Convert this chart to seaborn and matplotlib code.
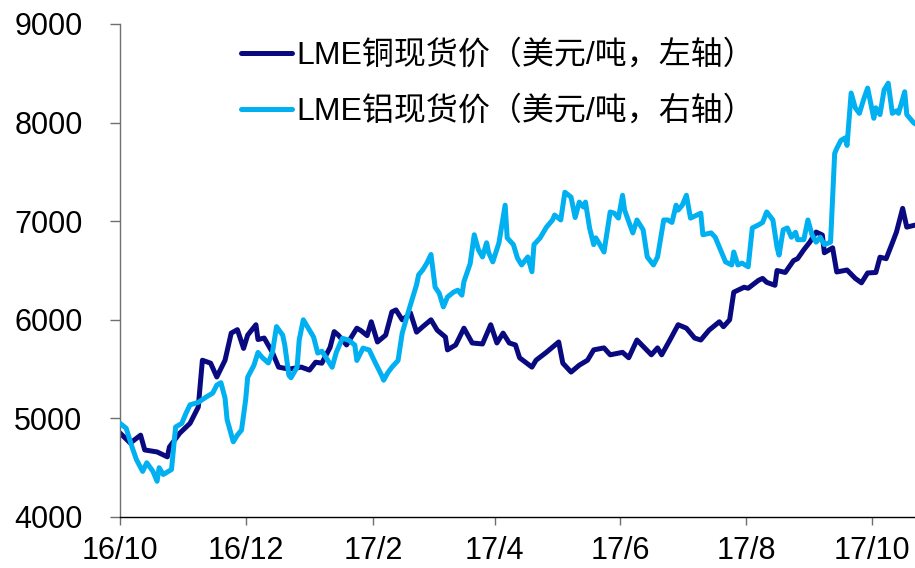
import matplotlib
matplotlib.use("Agg")
import matplotlib.pyplot as plt
import matplotlib.dates as mdates
import pandas as pd
import seaborn as sns

# ---------------- data ----------------
cu_dates = ["2016-10-01","2016-10-06","2016-10-11","2016-10-13","2016-10-19","2016-10-24","2016-10-25",
            "2016-10-30","2016-11-04","2016-11-08","2016-11-10","2016-11-14","2016-11-17","2016-11-21",
            "2016-11-24","2016-11-27","2016-11-30","2016-12-02","2016-12-06","2016-12-07","2016-12-10",
            "2016-12-14","2016-12-17","2016-12-22","2016-12-28","2017-01-01","2017-01-04","2017-01-07",
            "2017-01-11","2017-01-13","2017-01-15","2017-01-19","2017-01-24","2017-01-26","2017-01-29",
            "2017-01-31","2017-02-03","2017-02-07","2017-02-10","2017-02-12","2017-02-15","2017-02-17",
            "2017-02-19","2017-02-22","2017-02-25","2017-03-01","2017-03-04","2017-03-08","2017-03-09",
            "2017-03-13","2017-03-17","2017-03-21","2017-03-26","2017-03-30","2017-04-02","2017-04-05",
            "2017-04-08","2017-04-11","2017-04-13","2017-04-19","2017-04-21","2017-04-26","2017-05-02",
            "2017-05-04","2017-05-08","2017-05-12","2017-05-16","2017-05-19","2017-05-24","2017-05-27",
            "2017-06-02","2017-06-05","2017-06-09","2017-06-16","2017-06-19","2017-06-21","2017-06-25",
            "2017-06-29","2017-07-03","2017-07-07","2017-07-10","2017-07-14","2017-07-19","2017-07-21",
            "2017-07-24","2017-07-26","2017-07-31","2017-08-02","2017-08-07","2017-08-09","2017-08-11",
            "2017-08-15","2017-08-16","2017-08-20","2017-08-24","2017-08-26","2017-08-29","2017-09-01",
            "2017-09-04","2017-09-07","2017-09-08","2017-09-12","2017-09-14","2017-09-19","2017-09-23",
            "2017-09-26","2017-09-29","2017-10-03","2017-10-05","2017-10-08","2017-10-11","2017-10-13",
            "2017-10-16","2017-10-18","2017-10-22"]
cu_price = [4852,4750,4830,4680,4660,4610,4710,
            4850,4950,5115,5590,5560,5420,5590,
            5865,5900,5710,5845,5950,5800,5815,
            5670,5520,5500,5520,5490,5570,5560,
            5720,5880,5845,5745,5915,5890,5840,
            5980,5775,5845,6080,6100,6000,6030,
            6070,5875,5930,6000,5895,5825,5695,
            5745,5915,5765,5755,5950,5765,5865,
            5765,5745,5615,5520,5590,5670,5775,
            5560,5470,5540,5590,5695,5715,5645,
            5670,5615,5795,5645,5715,5645,5795,
            5950,5915,5815,5795,5895,5980,5930,
            6000,6280,6330,6320,6400,6420,6380,
            6350,6500,6480,6600,6620,6710,6790,
            6890,6860,6680,6730,6485,6505,6420,
            6375,6475,6480,6635,6620,6780,6890,
            7130,6940,6960]

al_dates = ["2016-10-01","2016-10-04","2016-10-07","2016-10-09","2016-10-12","2016-10-14","2016-10-17",
            "2016-10-19","2016-10-20","2016-10-22","2016-10-26","2016-10-28","2016-10-31","2016-11-02",
            "2016-11-04","2016-11-08","2016-11-12","2016-11-15","2016-11-17","2016-11-19","2016-11-21",
            "2016-11-22","2016-11-25","2016-11-27","2016-11-29","2016-12-01","2016-12-02","2016-12-05",
            "2016-12-07","2016-12-09","2016-12-12","2016-12-14","2016-12-16","2016-12-19","2016-12-20",
            "2016-12-22","2016-12-23","2016-12-26","2016-12-27","2016-12-29","2017-01-01","2017-01-03",
            "2017-01-05","2017-01-07","2017-01-09","2017-01-12","2017-01-14","2017-01-17","2017-01-20",
            "2017-01-23","2017-01-24","2017-01-27","2017-01-30","2017-02-02","2017-02-05","2017-02-06",
            "2017-02-08","2017-02-10","2017-02-13","2017-02-15","2017-02-18","2017-02-20","2017-02-22",
            "2017-02-23","2017-02-25","2017-02-27","2017-03-01","2017-03-03","2017-03-05","2017-03-07",
            "2017-03-09","2017-03-12","2017-03-14","2017-03-16","2017-03-17","2017-03-20","2017-03-22",
            "2017-03-24","2017-03-26","2017-03-28","2017-03-29","2017-03-31","2017-04-03","2017-04-06",
            "2017-04-07","2017-04-10","2017-04-12","2017-04-14","2017-04-17","2017-04-19","2017-04-20",
            "2017-04-23","2017-04-26","2017-04-29","2017-04-30","2017-05-03","2017-05-05","2017-05-08",
            "2017-05-10","2017-05-12","2017-05-14","2017-05-15","2017-05-17","2017-05-19","2017-05-20",
            "2017-05-22","2017-05-24","2017-05-27","2017-05-29","2017-05-31","2017-06-02","2017-06-03",
            "2017-06-06","2017-06-07","2017-06-09","2017-06-12","2017-06-14","2017-06-17","2017-06-19",
            "2017-06-22","2017-06-24","2017-06-26","2017-06-28","2017-06-29","2017-07-01","2017-07-03",
            "2017-07-05","2017-07-10","2017-07-11","2017-07-15","2017-07-17","2017-07-20","2017-07-22",
            "2017-07-25","2017-07-26","2017-07-28","2017-07-30","2017-08-02","2017-08-04","2017-08-07",
            "2017-08-09","2017-08-11","2017-08-14","2017-08-16","2017-08-17","2017-08-19","2017-08-21",
            "2017-08-23","2017-08-25","2017-08-26","2017-08-29","2017-08-31","2017-09-02","2017-09-04",
            "2017-09-06","2017-09-08","2017-09-11","2017-09-13","2017-09-14","2017-09-16","2017-09-18",
            "2017-09-19","2017-09-21","2017-09-23","2017-09-25","2017-09-27","2017-09-29","2017-10-02",
            "2017-10-03","2017-10-05","2017-10-07","2017-10-09","2017-10-11","2017-10-13","2017-10-14",
            "2017-10-17","2017-10-18","2017-10-21","2017-10-22"]
al_price = [1652,1644,1612,1593,1574,1588,1574,
            1558,1580,1569,1577,1646,1652,1668,
            1682,1686,1695,1701,1714,1718,1693,
            1658,1622,1633,1641,1690,1727,1746,
            1767,1759,1750,1767,1809,1795,1779,
            1730,1726,1743,1787,1820,1803,1792,
            1766,1769,1759,1743,1767,1790,1787,
            1779,1754,1774,1771,1750,1730,1722,
            1734,1743,1754,1798,1833,1855,1877,
            1893,1901,1912,1926,1873,1863,1841,
            1857,1865,1868,1860,1882,1911,1958,
            1934,1922,1945,1929,1914,1945,2006,
            1953,1942,1920,1909,1922,1898,1942,
            1953,1970,1982,1990,1982,2027,2019,
            1986,2011,2003,2011,1969,1942,1953,
            1942,1930,1995,1993,1985,2022,1998,
            1970,1961,1982,1966,1922,1909,1922,
            1982,1982,1978,2006,1998,2006,2022,
            1985,1993,1958,1961,1954,1930,1914,
            1909,1930,1909,1912,1906,1969,1974,
            1978,1995,1982,1938,1925,1966,1969,
            1954,1962,1950,1950,1982,1958,1946,
            1954,1942,1946,2090,2098,2111,2115,
            2103,2188,2164,2155,2177,2196,2147,
            2164,2153,2193,2204,2155,2159,2155,
            2190,2153,2141,2138]

cu_label = "LME铜现货价（美元/吨，左轴）"
al_label = "LME铝现货价（美元/吨，右轴）"
tick_dates = ["2016-10-01","2016-12-01","2017-02-01","2017-04-01","2017-06-01","2017-08-01","2017-10-01"]
tick_labels = ["16/10","16/12","17/2","17/4","17/6","17/8","17/10"]
y_ticks = [4000,5000,6000,7000,8000,9000]

# ---------------- plot ----------------
sns.set_theme(style="white")
plt.rcParams["font.family"] = ["Liberation Sans", "Noto Sans CJK SC", "DejaVu Sans"]

cu_df = pd.DataFrame({"date": pd.to_datetime(cu_dates), "price": cu_price})
al_df = pd.DataFrame({"date": pd.to_datetime(al_dates), "price": al_price})

fig = plt.figure(figsize=(9.15, 5.68), dpi=100)
ax = fig.add_axes([120/915, 1-517/568, 1-120/915, (517-24)/568])
ax2 = ax.twinx()

cu_color = "#0A0A80"
al_color = "#00B0F0"
sns.lineplot(data=cu_df, x="date", y="price", ax=ax, color=cu_color, linewidth=3.6,
             label=cu_label, legend=False)
sns.lineplot(data=al_df, x="date", y="price", ax=ax2, color=al_color, linewidth=3.6,
             label=al_label, legend=False)

ax.set_xlim(pd.Timestamp("2016-10-01"), pd.Timestamp("2017-10-22"))
ax.set_ylim(4000, 9000)
ax2.set_ylim(1500, 2300)

ax.set_xticks(pd.to_datetime(tick_dates))
ax.set_xticklabels(tick_labels)
ax.set_yticks(y_ticks)
ax.set_yticklabels([str(v) for v in y_ticks])
ax.set_xlabel("")
ax.set_ylabel("")
ax2.set_ylabel("")
ax2.set_yticks([])

for s in ["top", "right"]:
    ax.spines[s].set_visible(False)
for s in ax2.spines.values():
    s.set_visible(False)
ax.spines["left"].set_color("#6f6f6f")
ax.spines["left"].set_linewidth(1.0)
ax.spines["bottom"].set_color("#000000")
ax.spines["bottom"].set_linewidth(1.0)

ax.tick_params(axis="y", which="both", direction="out", length=7, width=1, color="#6f6f6f",
               pad=20, labelsize=22, labelcolor="black", left=True)
ax.tick_params(axis="x", which="both", direction="out", length=6, width=1, color="#6f6f6f",
               pad=8, labelsize=22, labelcolor="black", bottom=True)

h1, l1 = ax.get_legend_handles_labels()
h2, l2 = ax2.get_legend_handles_labels()
leg = fig.legend(h1 + h2, l1 + l2, loc="upper left", bbox_to_anchor=(241/915, 1-40/568),
                 frameon=False, fontsize=23, handlelength=1.6, handletextpad=0.12,
                 labelspacing=0.8, borderpad=0, borderaxespad=0)
for t in leg.get_texts():
    t.set_color("black")

fig.savefig("out.png", dpi=100)
